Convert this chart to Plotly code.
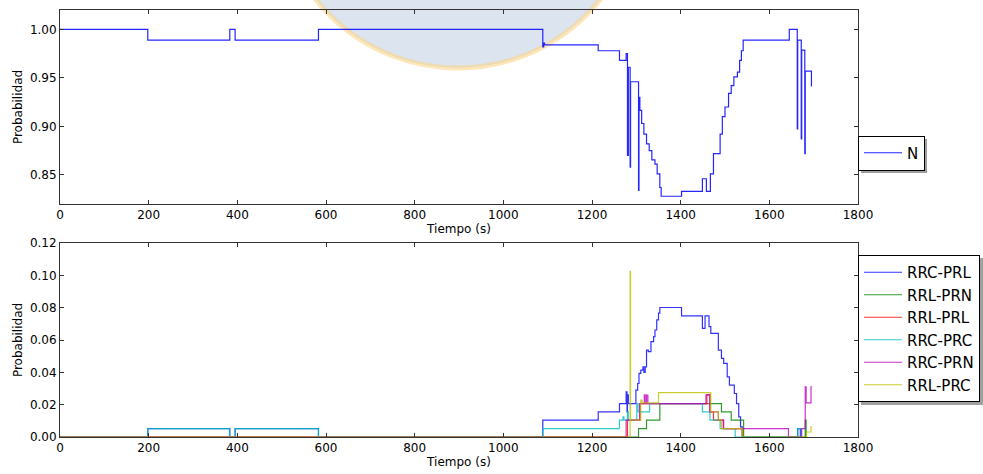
import plotly.graph_objects as go
from plotly.subplots import make_subplots

# --- Probabilidad del estado N (paso a paso) ---
t_n = [0, 198, 383, 395, 583, 1089, 1091, 1093, 1214, 1262, 1277, 1280, 1282, 1286, 1287,
       1305, 1306, 1308, 1312, 1317, 1323, 1329, 1335, 1342, 1347, 1353, 1356, 1402, 1449,
       1458, 1467, 1474, 1489, 1494, 1500, 1508, 1514, 1520, 1528, 1533, 1537, 1541, 1645,
       1663, 1664, 1672, 1673, 1680, 1681, 1695]
p_n = [1.000, 0.989, 1.000, 0.989, 1.000, 0.982, 0.986, 0.984, 0.978, 0.968, 0.975, 0.870,
       0.961, 0.858, 0.946, 0.834, 0.930, 0.9165, 0.903, 0.892, 0.882, 0.875, 0.8655, 0.861,
       0.851, 0.837, 0.828, 0.833, 0.846, 0.833, 0.851, 0.872, 0.892, 0.910, 0.920, 0.934,
       0.942, 0.951, 0.956, 0.968, 0.978, 0.989, 1.000, 0.8975, 0.989, 0.887, 0.9786, 0.872,
       0.957, 0.941]

# --- Probabilidades de las transiciones ---
t_rrc_prl = [0, 198, 383, 395, 583, 1089, 1214, 1262, 1277, 1279, 1280, 1282, 1299, 1303,
             1306, 1310, 1315, 1317, 1320, 1323, 1327, 1333, 1339, 1342, 1346, 1350, 1353,
             1402, 1449, 1455, 1464, 1468, 1485, 1492, 1497, 1505, 1510, 1521, 1526, 1531,
             1535, 1539, 1664, 1670]
p_rrc_prl = [0, 0.0052, 0, 0.0052, 0, 0.0104, 0.0155, 0.0207, 0.028, 0.0155, 0.026, 0.0207,
             0.029, 0.0331, 0.0393, 0.0414, 0.0434, 0.040, 0.0434, 0.0538, 0.0528, 0.059,
             0.0621, 0.0662, 0.0724, 0.0766, 0.0801, 0.0749, 0.0672, 0.0749, 0.0683, 0.0641,
             0.0538, 0.0486, 0.0455, 0.0372, 0.0321, 0.0269, 0.0207, 0.0124, 0.0062, 0,
             0.0052, 0]

t_rrl_prn = [0, 1305, 1323, 1353, 1492, 1514, 1542, 1681, 1683]
p_rrl_prn = [0, 0.0052, 0.0104, 0.0207, 0.0155, 0.0104, 0, 0.0104, 0]

t_rrl_prl = [0, 1280, 1308, 1459, 1466, 1474, 1496, 1539]
p_rrl_prl = [0, 0.0104, 0.0207, 0.026, 0.0155, 0.0104, 0.0052, 0]

t_rrc_prc = [0, 198, 383, 395, 583, 1089, 1262, 1270, 1272, 1280, 1282, 1301, 1304, 1330,
             1449, 1466, 1489, 1523, 1664, 1672]
p_rrc_prc = [0, 0.0052, 0, 0.0052, 0, 0.0052, 0.0104, 0.0124, 0.0104, 0.0155, 0.0104,
             0.0207, 0.0155, 0.0207, 0.0155, 0.0104, 0.0052, 0, 0.0052, 0]

t_rrc_prn = [0, 1277, 1308, 1318, 1320, 1323, 1326, 1457, 1466, 1485, 1497, 1643, 1673,
             1681, 1683, 1694, 1696]
p_rrc_prn = [0, 0.0104, 0.0207, 0.026, 0.0207, 0.0259, 0.0207, 0.026, 0.0155, 0.0104,
             0.0052, 0, 0.0052, 0.031, 0.0211, 0.031, 0.031]

t_rrl_prc = [0, 1286, 1287, 1310, 1313, 1350, 1468, 1485, 1492, 1539, 1684, 1694, 1696]
p_rrl_prc = [0, 0.1024, 0.0104, 0.0228, 0.0211, 0.0275, 0.0155, 0.0104, 0.0052, 0,
             0.0031, 0.0062, 0.0062]

lower_series = [
    ("RRC-PRL", t_rrc_prl, p_rrc_prl, "#0000ff"),
    ("RRL-PRN", t_rrl_prn, p_rrl_prn, "#008000"),
    ("RRL-PRL", t_rrl_prl, p_rrl_prl, "#ff0000"),
    ("RRC-PRC", t_rrc_prc, p_rrc_prc, "#00bfbf"),
    ("RRC-PRN", t_rrc_prn, p_rrc_prn, "#bf00bf"),
    ("RRL-PRC", t_rrl_prc, p_rrl_prc, "#bfbf00"),
]

x_ticks = list(range(0, 2000, 200))
y_ticks_top = [0.85, 0.90, 0.95, 1.00]
y_ticks_bottom = [0.00, 0.02, 0.04, 0.06, 0.08, 0.10, 0.12]

W, H = 983, 474
L, R, T, B = 60, 125, 10, 37

fig = make_subplots(rows=2, cols=1, vertical_spacing=0.0914)

fig.add_trace(go.Scatter(x=t_n, y=p_n, name="N", mode="lines", line_shape="hv",
                         line=dict(color="#0000ff", width=1.2), opacity=0.85,
                         legend="legend"), row=1, col=1)
for name, tx, py, col in lower_series:
    fig.add_trace(go.Scatter(x=tx, y=py, name=name, mode="lines", line_shape="hv",
                             line=dict(color=col, width=1.2), opacity=0.8,
                             legend="legend2"), row=2, col=1)

font = dict(family="DejaVu Sans", size=12, color="#000000")
axis_common = dict(showline=True, linecolor="#333333", linewidth=1, mirror="ticks",
                   ticks="inside", ticklen=4, tickcolor="#333333", showgrid=False,
                   zeroline=False, tickfont=font, automargin=False)

for r in (1, 2):
    fig.update_xaxes(range=[0, 1800], tickvals=x_ticks, title=dict(text="Tiempo (s)", font=font,
                     standoff=2), row=r, col=1, **axis_common)
fig.update_yaxes(range=[0.82, 1.02], tickvals=y_ticks_top, tickformat=".2f",
                 title=dict(text="Probabilidad", font=font, standoff=4), row=1, col=1, **axis_common)
fig.update_yaxes(range=[0, 0.12], tickvals=y_ticks_bottom, tickformat=".2f",
                 title=dict(text="Probabilidad", font=font, standoff=4), row=2, col=1, **axis_common)


def px_x(p):
    return (p - L) / (W - L - R)


def px_y(p):
    return (H - B - p) / (H - T - B)


shapes = [
    # emblem behind the upper panel
    dict(type="circle", xref="paper", yref="paper", layer="below",
         x0=px_x(276), x1=px_x(640), y0=px_y(68), y1=px_y(-296),
         fillcolor="rgba(196,210,228,0.6)", line=dict(color="rgba(252,212,130,0.55)", width=5)),
    # legend drop shadows
    dict(type="rect", xref="paper", yref="paper", layer="above",
         x0=px_x(861), x1=px_x(927), y0=px_y(173), y1=px_y(139),
         fillcolor="#a0a0a0", line=dict(width=0)),
    dict(type="rect", xref="paper", yref="paper", layer="above",
         x0=px_x(861), x1=px_x(985), y0=px_y(405), y1=px_y(258),
         fillcolor="#a0a0a0", line=dict(width=0)),
]

legend_font = dict(family="DejaVu Sans", size=15, color="#000000")
legend_common = dict(xref="container", yref="container", x=858 / W, xanchor="left",
                     yanchor="middle", bgcolor="white", bordercolor="#000000",
                     borderwidth=1, font=legend_font, itemwidth=38)
fig.update_layout(
    width=W, height=H,
    margin=dict(l=L, r=R, t=T, b=B, autoexpand=False),
    paper_bgcolor="white", plot_bgcolor="rgba(0,0,0,0)",
    font=font,
    showlegend=True,
    shapes=shapes,
    legend=dict(y=1 - 153 / H, **legend_common),
    legend2=dict(y=1 - 328.5 / H, **legend_common),
)

fig.write_html("out.html")
